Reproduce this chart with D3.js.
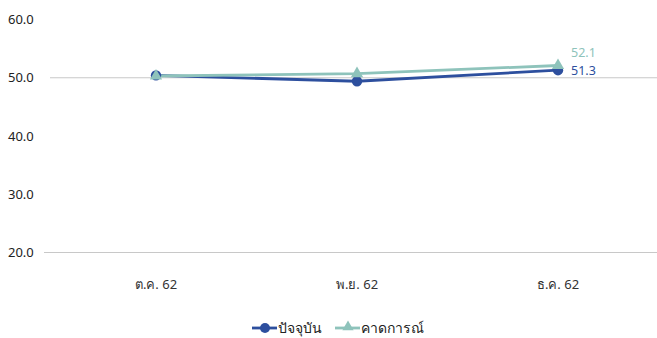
<!DOCTYPE html>
<html><head><meta charset="utf-8">
<script src="https://cdn.jsdelivr.net/npm/d3@7"></script>
<style>body{margin:0;background:#fff}svg{display:block}text{font-family:"Noto Sans","DejaVu Sans",sans-serif}</style>
</head><body>
<script>
const categories = ["ต.ค. 62", "พ.ย. 62", "ธ.ค. 62"];
const current = [50.4, 49.4, 51.3];
const expected = [50.3, 50.7, 52.1];
const yTicks = [20, 30, 40, 50, 60];
const seriesNames = ["ปัจจุบัน", "คาดการณ์"];
const blue = "#2d4f9e", teal = "#8ec3bb";

const W = 657, H = 338;
const svg = d3.select("body").append("svg").attr("width", W).attr("height", H);
const x = d3.scalePoint().domain(categories).range([156, 558]);
const y = d3.scaleLinear().domain([20, 60]).range([252.5, 19.5]);

svg.append("line").attr("x1", 50).attr("x2", W).attr("y1", y(50)).attr("y2", y(50))
  .attr("stroke", "#c8c8c8").attr("stroke-width", 1.2);
svg.append("line").attr("x1", 44).attr("x2", W).attr("y1", y(20)).attr("y2", y(20))
  .attr("stroke", "#c8c8c8").attr("stroke-width", 1.2);

svg.append("g").selectAll("text").data(yTicks).join("text")
  .attr("x", 8).attr("y", d => y(d)).attr("dy", "0.35em")
  .attr("font-size", 13).attr("fill", "#222").text(d => d.toFixed(1));

svg.append("g").selectAll("text").data(categories).join("text")
  .attr("x", d => x(d)).attr("y", 289).attr("text-anchor", "middle")
  .attr("font-size", 13).attr("fill", "#333").text(d => d);

const line = d3.line().x((d, i) => x(categories[i])).y(d => y(d));
svg.append("path").datum(current).attr("d", line).attr("fill", "none")
  .attr("stroke", blue).attr("stroke-width", 2.8);
svg.append("path").datum(expected).attr("d", line).attr("fill", "none")
  .attr("stroke", teal).attr("stroke-width", 2.8);

svg.append("g").selectAll("circle").data(current).join("circle")
  .attr("cx", (d, i) => x(categories[i])).attr("cy", d => y(d)).attr("r", 5.2).attr("fill", blue);
const tri = d3.symbol().type(d3.symbolTriangle).size(65);
svg.append("g").selectAll("path").data(expected).join("path")
  .attr("d", tri).attr("transform", (d, i) => `translate(${x(categories[i])},${y(d)})`).attr("fill", teal);

svg.append("text").attr("x", 571).attr("y", 57)
  .attr("font-size", 12.5).attr("fill", teal).text(expected[2].toFixed(1));
svg.append("text").attr("x", 571).attr("y", 75)
  .attr("font-size", 12.5).attr("fill", blue).text(current[2].toFixed(1));

// legend
const lg = svg.append("g");
lg.append("line").attr("x1", 252).attr("x2", 277).attr("y1", 328).attr("y2", 328).attr("stroke", blue).attr("stroke-width", 2.8);
lg.append("circle").attr("cx", 265).attr("cy", 328).attr("r", 5).attr("fill", blue);
lg.append("text").attr("x", 278).attr("y", 333).attr("font-size", 14).attr("fill", "#222").text(seriesNames[0]);
lg.append("line").attr("x1", 335).attr("x2", 360).attr("y1", 328).attr("y2", 328).attr("stroke", teal).attr("stroke-width", 2.8);
lg.append("path").attr("d", d3.symbol().type(d3.symbolTriangle).size(55)).attr("transform", "translate(348,327)").attr("fill", teal);
lg.append("text").attr("x", 361).attr("y", 333).attr("font-size", 14).attr("fill", "#222").text(seriesNames[1]);
</script>
</body></html>
